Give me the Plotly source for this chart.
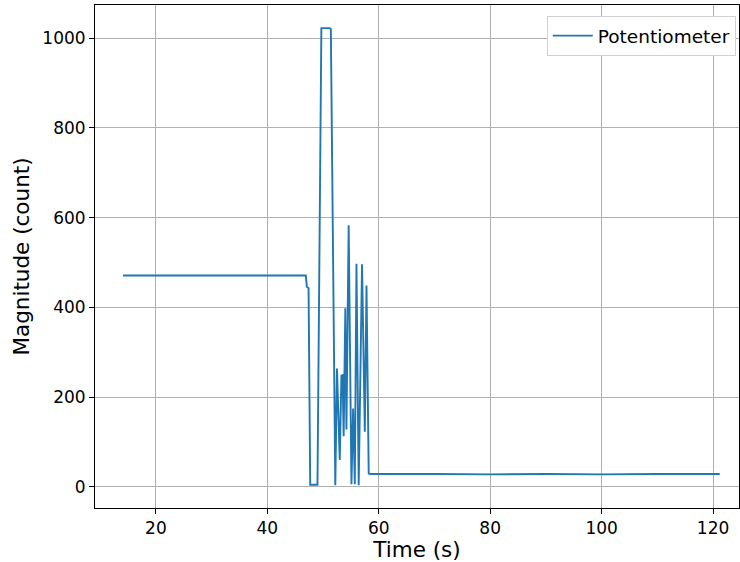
import plotly.graph_objects as go

# potentiometer readings (time in seconds, magnitude in counts)
time_s = [14.1, 20.0, 25.0, 30.0, 35.0, 40.0, 46.9, 47.1, 47.4, 47.7, 49.0,
          49.7, 51.2, 51.4, 52.2, 52.5, 53.0, 53.3, 53.5, 53.7, 54.0, 54.2,
          54.6, 55.1, 55.4, 55.7, 56.0, 56.4, 56.7, 57.0, 57.5, 57.8, 58.2,
          58.5, 70.0, 80.0, 90.0, 100.0, 110.0, 121.2]
magnitude = [471, 471, 470, 471, 471, 470, 471, 446, 443, 5, 5,
             1022, 1022, 1020, 4, 264, 60, 248, 249, 113, 398, 128,
             583, 6, 175, 6, 497, 4, 277, 496, 123, 449, 30,
             29, 29, 28, 29, 28, 29, 29]

x_ticks = [20, 40, 60, 80, 100, 120]
y_ticks = [0, 200, 400, 600, 800, 1000]

fig = go.Figure()
fig.add_trace(go.Scatter(
    x=time_s, y=magnitude, mode="lines", name="Potentiometer",
    line=dict(color="#1f77b4", width=1.9),
))

axis_common = dict(
    showline=True, linecolor="black", linewidth=1, mirror=True,
    ticks="outside", ticklen=5, tickcolor="black",
    showgrid=True, gridcolor="#b0b0b0", gridwidth=1, zeroline=False,
    tickfont=dict(size=17, color="black"),
)

fig.update_layout(
    width=740, height=562,
    paper_bgcolor="white", plot_bgcolor="white",
    font=dict(family="DejaVu Sans", color="black"),
    margin=dict(l=95, r=1, t=5, b=54),
    xaxis=dict(range=[9.07, 124.66], tickvals=x_ticks,
               title=dict(text="Time (s)", font=dict(size=21.5), standoff=4),
               **axis_common),
    yaxis=dict(range=[-46.8, 1073.5], tickvals=y_ticks,
               title=dict(text="Magnitude (count)", font=dict(size=21.5), standoff=6),
               **axis_common),
    showlegend=True,
    legend=dict(x=0.995, y=0.978, xanchor="right", yanchor="top",
                bgcolor="white", bordercolor="#d0d0d0", borderwidth=1,
                itemwidth=40, font=dict(size=18.5)),
)

# drop the default page margin so the figure sits at the top-left corner
fig.write_html("out.html", config={"displayModeBar": False},
               post_script="document.body.style.margin='0';")
